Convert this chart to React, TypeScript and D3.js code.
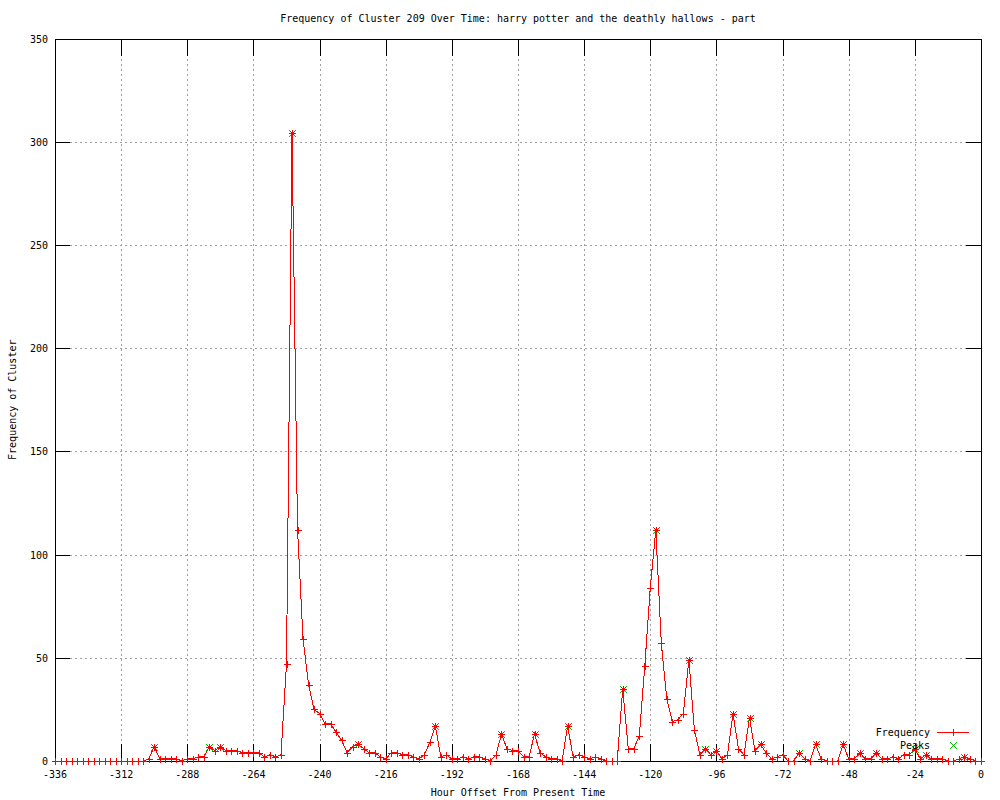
import React from "react";
import * as d3 from "d3";

// Hours: -336 .. 0 in steps of 2
const hours: number[] = d3.range(-336, 1, 2);

const frequency: number[] = [
  0, 0, 0, 0, 0, 0, 0, 0, 0, 0, 0, 0, 0, 0, 0, 0, // -336..-306
  0, 1, 7, 1, 1, 1, 1, 0, 1, 1, 2, 2, 7, 5, 7, 5, // -304..-274
  5, 5, 4, 4, 4, 4, 2, 3, 2, 3, 47, 304, 112, 59, 37, 25, // -272..-242
  23, 18, 18, 14, 10, 4, 7, 8, 6, 4, 4, 2, 1, 4, 4, 3, // -240..-210
  3, 2, 1, 3, 9, 17, 2, 3, 1, 1, 2, 1, 2, 2, 1, 0, // -208..-178
  3, 13, 6, 5, 5, 2, 2, 13, 4, 2, 1, 1, 0, 17, 2, 3, // -176..-146
  2, 1, 2, 1, 0, 0, 0, 35, 6, 6, 12, 46, 84, 112, 57, 30, // -144..-114
  19, 20, 23, 49, 15, 3, 6, 3, 5, 1, 3, 23, 6, 3, 21, 5, // -112..-82
  8, 4, 1, 2, 3, 0, 0, 4, 1, 0, 8, 1, 0, 0, 0, 8, // -80..-50
  1, 1, 4, 1, 1, 4, 1, 1, 2, 1, 3, 3, 6, 1, 3, 1, // -48..-18
  1, 1, 0, 0, 1, 2, 1, 0, 0, // -16..0
];

const peakHours: number[] = [
  -300, -280, -276, -250, -226, -198, -174, -162, -150, -130, -118, -106,
  -100, -96, -90, -84, -80, -66, -60, -50, -44, -38, -24, -20, -6,
];

const xTicks: number[] = d3.range(-336, 1, 24);
const yTicks: number[] = d3.range(0, 351, 50);

const titleText = "Frequency of Cluster 209 Over Time: harry potter and the deathly hallows - part";
const xLabel = "Hour Offset From Present Time";
const yLabel = "Frequency of Cluster";
const legendLabels = ["Frequency", "Peaks"];

const W = 1000;
const H = 800;
const left = 55;
const right = 981;
const top = 38.5;
const bottom = 761;

const FONT = "'DejaVu Sans Mono', 'Liberation Mono', monospace";

export default function App() {
  const x = d3.scaleLinear().domain([-336, 0]).range([left, right]);
  const y = d3.scaleLinear().domain([0, 350]).range([bottom, top]);
  const data = hours.map((h, i) => ({ h, v: frequency[i] }));
  const line = d3
    .line<{ h: number; v: number }>()
    .x((d) => x(d.h))
    .y((d) => y(d.v));
  const peakSet = new Set(peakHours);
  const peaks = data.filter((d) => peakSet.has(d.h));

  const px = (v: number) => Math.round(v) + 0.5;
  const plus = (cx: number, cy: number, s: number) =>
    `M${cx - s},${cy}H${cx + s}M${cx},${cy - s}V${cy + s}`;
  const cross = (cx: number, cy: number, s: number) =>
    `M${cx - s},${cy - s}L${cx + s},${cy + s}M${cx - s},${cy + s}L${cx + s},${cy - s}`;

  const tickLenX = 17;
  const tickLenY = 15;

  return (
    <svg
      width={W}
      height={H}
      style={{ position: "absolute", left: 0, top: 0, background: "#fff" }}
      fontFamily={FONT}
      fontSize={10}
    >
      <rect x={0} y={0} width={W} height={H} fill="#fff" />
      {/* grid */}
      <g stroke="#a0a0a0" strokeWidth={1} strokeDasharray="2,3" shapeRendering="crispEdges">
        {xTicks
          .filter((t) => t !== -336 && t !== 0)
          .map((t) => (
            <line key={"gx" + t} x1={px(x(t))} x2={px(x(t))} y1={top} y2={bottom} />
          ))}
        {yTicks
          .filter((t) => t !== 0 && t !== 350)
          .map((t) => (
            <line key={"gy" + t} x1={left} x2={right} y1={px(y(t))} y2={px(y(t))} />
          ))}
      </g>
      {/* ticks */}
      <g stroke="#000" strokeWidth={1} shapeRendering="crispEdges">
        {xTicks.map((t) => (
          <g key={"tx" + t}>
            <line x1={px(x(t))} x2={px(x(t))} y1={bottom} y2={bottom - tickLenX} />
            <line x1={px(x(t))} x2={px(x(t))} y1={top} y2={top + tickLenX} />
          </g>
        ))}
        {yTicks.map((t) => (
          <g key={"ty" + t}>
            <line x1={left} x2={left + tickLenY} y1={px(y(t))} y2={px(y(t))} />
            <line x1={right} x2={right - tickLenY} y1={px(y(t))} y2={px(y(t))} />
          </g>
        ))}
        <rect
          x={px(left)}
          y={px(top)}
          width={Math.round(right) - Math.round(left)}
          height={Math.round(bottom) - Math.round(top)}
          fill="none"
        />
      </g>
      {/* tick labels */}
      <g fill="#000">
        {xTicks.map((t) => (
          <text key={"lx" + t} x={x(t)} y={778} textAnchor="middle">
            {t}
          </text>
        ))}
        {yTicks.map((t) => (
          <text key={"ly" + t} x={48} y={y(t) + 4} textAnchor="end">
            {t}
          </text>
        ))}
      </g>
      <text x={(left + right) / 2} y={22} textAnchor="middle">
        {titleText}
      </text>
      <text x={(left + right) / 2} y={796} textAnchor="middle">
        {xLabel}
      </text>
      <text
        transform={`translate(16,${(top + bottom) / 2}) rotate(-90)`}
        textAnchor="middle"
      >
        {yLabel}
      </text>
      {/* peaks (green x) */}
      <g stroke="#00c000" strokeWidth={1} fill="none" shapeRendering="crispEdges">
        {peaks.map((d) => (
          <path key={"pk" + d.h} d={cross(px(x(d.h)), px(y(d.v)), 3.5)} />
        ))}
      </g>
      {/* frequency line */}
      <path d={line(data) || ""} fill="none" stroke="#ff0000" strokeWidth={1} shapeRendering="crispEdges" />
      <g stroke="#ff0000" strokeWidth={1} fill="none" shapeRendering="crispEdges">
        {data.map((d) => (
          <path key={"pt" + d.h} d={plus(px(x(d.h)), px(y(d.v)), 3.5)} />
        ))}
        {peaks.map((d) => (
          <path key={"pr" + d.h} d={cross(px(x(d.h)), px(y(d.v)), 2)} />
        ))}
      </g>
      {/* legend */}
      <g>
        <text x={930} y={736} textAnchor="end">
          {legendLabels[0]}
        </text>
        <line x1={937} x2={969} y1={732.5} y2={732.5} stroke="#ff0000" shapeRendering="crispEdges" />
        <path d={plus(953.5, 732.5, 3.5)} stroke="#ff0000" fill="none" shapeRendering="crispEdges" />
        <text x={930} y={749} textAnchor="end">
          {legendLabels[1]}
        </text>
        <path d={cross(953.5, 745.5, 3.5)} stroke="#00c000" fill="none" shapeRendering="crispEdges" />
      </g>
    </svg>
  );
}
